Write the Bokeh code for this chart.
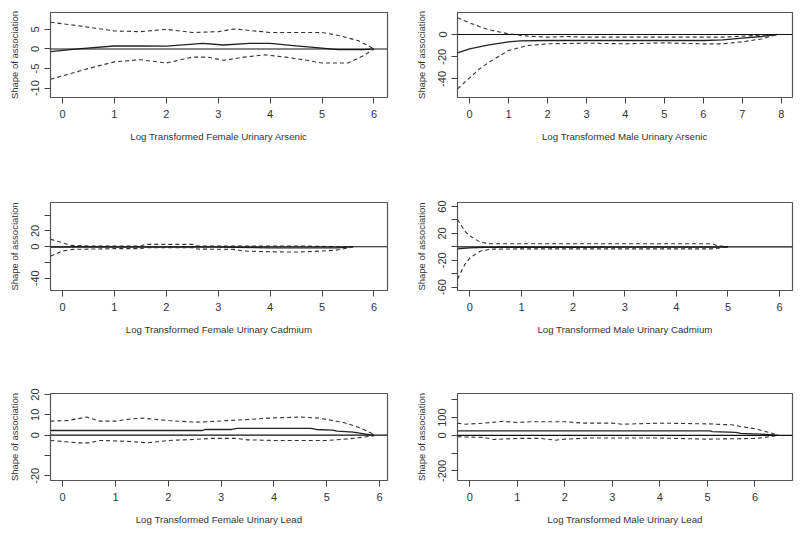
from bokeh.plotting import figure
from bokeh.models import Range1d, FixedTicker, Span
from bokeh.layouts import column, row
from bokeh.embed import file_html
from bokeh.resources import INLINE

# ---------------- data ----------------
# Female urinary arsenic
fa_fit_x = [-0.23, 0.3, 1.0, 1.5, 2.0, 2.7, 3.1, 3.6, 4.0, 4.5, 5.0, 5.3, 5.8, 6.0]
fa_fit = [-0.7, 0.0, 0.75, 0.8, 0.7, 1.4, 1.0, 1.4, 1.4, 0.8, 0.2, -0.2, -0.2, 0.0]
fa_upr_x = [-0.23, 0.2, 1.0, 1.5, 2.0, 2.5, 3.0, 3.3, 4.0, 5.0, 5.3, 5.7, 6.0]
fa_upr = [6.8, 6.1, 4.6, 4.4, 5.0, 4.2, 4.4, 5.1, 4.2, 4.2, 3.5, 2.1, 0.0]
fa_lwr_x = [-0.23, 0.5, 1.0, 1.5, 2.0, 2.5, 2.8, 3.1, 3.5, 3.9, 4.3, 4.7, 5.0, 5.5, 5.8, 6.0]
fa_lwr = [-7.75, -5.0, -3.3, -2.75, -3.6, -2.1, -2.1, -2.9, -2.1, -1.5, -2.1, -2.9, -3.6, -3.6, -1.7, 0.0]

# Male urinary arsenic
ma_fit_x = [-0.31, 0.0, 0.5, 1.0, 1.3, 2.0, 4.0, 6.0, 6.5, 7.0, 7.5, 7.9]
ma_fit = [-16.5, -12.9, -9.3, -6.6, -5.7, -5.4, -5.4, -5.4, -4.8, -3.3, -1.8, 0.0]
ma_upr_x = [-0.31, 0.0, 0.25, 0.5, 1.0, 1.5, 2.0, 2.5, 3.0, 5.0, 6.5, 7.0, 7.5, 7.9]
ma_upr = [15.0, 10.5, 7.2, 4.2, 0.6, -1.5, -2.4, -1.8, -2.4, -2.4, -2.4, -1.5, -0.6, 0.0]
ma_lwr_x = [-0.31, 0.0, 0.25, 0.5, 1.0, 1.5, 2.0, 3.0, 4.0, 5.0, 6.0, 6.5, 7.0, 7.5, 7.9]
ma_lwr = [-49.0, -39.0, -31.0, -25.0, -14.4, -9.9, -8.4, -7.8, -8.4, -7.5, -8.4, -8.4, -6.6, -3.9, 0.0]

# Female urinary cadmium
fc_fit_x = [-0.23, 0.5, 1.5, 2.5, 3.3, 4.0, 5.0, 5.3, 5.6]
fc_fit = [-0.5, -0.3, -0.5, -0.3, -0.8, -1.5, -1.5, -1.5, 0.0]
fc_upr_x = [-0.23, 0.0, 0.15, 0.5, 1.5, 1.6, 2.5, 2.6, 4.6, 5.3, 5.6]
fc_upr = [9.4, 5.0, 1.7, 0.9, 0.9, 3.0, 3.0, 0.9, 0.9, 0.0, 0.0]
fc_lwr_x = [-0.23, 0.0, 0.2, 1.0, 1.5, 1.6, 2.5, 2.6, 3.3, 3.5, 4.0, 4.5, 5.0, 5.3, 5.6]
fc_lwr = [-12.0, -5.5, -3.4, -2.5, -2.5, -1.3, -1.3, -3.0, -3.4, -5.5, -6.4, -6.8, -5.5, -4.2, 0.0]

# Male urinary cadmium
mc_fit_x = [-0.24, 0.0, 0.3, 1.0, 2.0, 3.0, 4.0, 4.7, 5.0]
mc_fit = [-3.0, -1.5, -0.8, -0.5, -0.8, -0.5, -0.5, -0.5, 0.0]
mc_upr_x = [-0.24, -0.1, 0.0, 0.2, 0.4, 1.0, 4.7, 4.8, 5.0]
mc_upr = [41.0, 23.5, 16.0, 7.0, 4.5, 4.5, 4.5, 1.5, 0.0]
mc_lwr_x = [-0.24, -0.1, 0.0, 0.2, 0.4, 1.0, 4.7, 5.0]
mc_lwr = [-48.0, -26.5, -16.5, -6.5, -3.5, -3.0, -3.0, 0.0]

# Female urinary lead
fl_fit_x = [-0.23, 2.65, 2.7, 3.2, 3.3, 4.7, 4.8, 5.1, 5.2, 5.5, 5.8, 5.9]
fl_fit = [2.3, 2.3, 2.8, 2.8, 3.3, 3.3, 2.8, 2.5, 2.0, 1.5, 0.3, 0.0]
fl_upr_x = [-0.23, 0.1, 0.45, 0.7, 1.0, 1.3, 1.5, 2.0, 2.5, 2.8, 3.5, 4.0, 4.5, 4.8, 5.0, 5.3, 5.6, 5.9]
fl_upr = [6.9, 7.2, 8.9, 6.9, 6.9, 8.0, 8.4, 7.2, 6.4, 6.7, 7.7, 8.5, 8.9, 8.5, 7.7, 6.4, 3.9, 0.3]
fl_lwr_x = [-0.23, 0.3, 0.5, 0.7, 1.3, 1.6, 2.0, 2.5, 2.8, 3.3, 3.5, 4.0, 5.0, 5.3, 5.6, 5.9]
fl_lwr = [-2.6, -3.8, -3.8, -2.6, -3.1, -3.8, -2.6, -2.1, -1.6, -1.6, -2.3, -2.6, -2.6, -2.1, -1.3, -0.3]

# Male urinary lead
ml_fit_x = [-0.26, 5.05, 5.1, 5.6, 5.7, 6.1, 6.3, 6.5]
ml_fit = [25.0, 25.0, 21.0, 17.0, 11.5, 7.7, 3.8, 0.0]
ml_upr_x = [-0.26, -0.1, 0.3, 0.7, 1.0, 1.3, 2.0, 2.4, 3.0, 3.2, 4.0, 5.0, 5.5, 6.0, 6.3, 6.5]
ml_upr = [69, 63, 69, 79, 73, 77, 77, 69, 69, 63, 69, 65, 60, 37, 17, 0]
ml_lwr_x = [-0.26, 0.3, 0.5, 1.0, 1.5, 1.8, 2.0, 2.5, 3.0, 4.0, 5.0, 6.0, 6.2, 6.5]
ml_lwr = [-8, -11.5, -23, -17, -17, -27, -21, -15, -15, -15, -21, -17, -11.5, 0]

# axis ticks and labels
fa_xticks = [0, 1, 2, 3, 4, 5, 6]
fa_yticks = [-10, -5, 0, 5]
fa_ylabels = ["-10", "-5", "0", "5"]
ma_xticks = [0, 1, 2, 3, 4, 5, 6, 7, 8]
ma_yticks = [-40, -20, 0, 20]
ma_ylabels = ["-40", "-20", "0", "20"]
fc_xticks = [0, 1, 2, 3, 4, 5, 6]
fc_yticks = [-40, -20, 0, 20, 40]
fc_ylabels = ["-40", "", "0", "20", ""]
mc_xticks = [0, 1, 2, 3, 4, 5, 6]
mc_yticks = [-60, -40, -20, 0, 20, 40, 60]
mc_ylabels = ["-60", "", "-20", "", "20", "", "60"]
fl_xticks = [0, 1, 2, 3, 4, 5, 6]
fl_yticks = [-20, -10, 0, 10, 20]
fl_ylabels = ["-20", "", "0", "10", "20"]
ml_xticks = [0, 1, 2, 3, 4, 5, 6]
ml_yticks = [-200, -100, 0, 100, 200]
ml_ylabels = ["-200", "", "0", "100", ""]

titles = [
    "Log Transformed Female Urinary Arsenic",
    "Log Transformed Male Urinary Arsenic",
    "Log Transformed Female Urinary Cadmium",
    "Log Transformed Male Urinary Cadmium",
    "Log Transformed Female Urinary Lead",
    "Log Transformed Male Urinary Lead",
]
ylab = "Shape of association"

FONT = "Liberation Sans"
TXT = "#333333"


def panel(w, h, bl, br, bt, bb, xr, yr, xticks, yticks, ylabels, title,
          fx, fy, ux, uy, lx, ly):
    p = figure(width=w, height=h, output_backend="svg", toolbar_location=None,
               x_range=Range1d(*xr), y_range=Range1d(*yr),
               min_border_left=bl, min_border_right=br,
               min_border_top=bt, min_border_bottom=bb)
    p.grid.visible = False
    p.background_fill_color = "white"
    p.border_fill_color = "white"
    p.outline_line_color = "#555555"
    p.outline_line_width = 1.2
    p.add_layout(Span(location=0, dimension="width", line_color="#111111", line_width=1.1))
    p.line(fx, fy, line_color="#222222", line_width=1.3)
    p.line(ux, uy, line_color="#333333", line_width=1.1, line_dash="4 3")
    p.line(lx, ly, line_color="#333333", line_width=1.1, line_dash="4 3")

    xa = p.xaxis[0]
    xa.ticker = FixedTicker(ticks=xticks)
    xa.axis_line_color = None
    xa.major_tick_out = 6
    xa.major_tick_in = 0
    xa.minor_tick_out = 0
    xa.minor_tick_in = 0
    xa.major_tick_line_color = "#444444"
    xa.major_label_standoff = 6
    xa.major_label_text_font = FONT
    xa.major_label_text_font_size = "11px"
    xa.major_label_text_color = TXT
    xa.axis_label = title
    xa.axis_label_text_font = FONT
    xa.axis_label_text_font_size = "9.7px"
    xa.axis_label_text_font_style = "normal"
    xa.axis_label_text_color = TXT
    xa.axis_label_standoff = 10

    ya = p.yaxis[0]
    ya.ticker = FixedTicker(ticks=yticks)
    ya.major_label_overrides = {t: s for t, s in zip(yticks, ylabels)}
    ya.axis_line_color = None
    ya.major_tick_out = 6
    ya.major_tick_in = 0
    ya.minor_tick_out = 0
    ya.minor_tick_in = 0
    ya.major_tick_line_color = "#444444"
    ya.major_label_orientation = "vertical"
    ya.major_label_standoff = 5
    ya.major_label_text_font = FONT
    ya.major_label_text_font_size = "11px"
    ya.major_label_text_color = TXT
    ya.axis_label = ylab
    ya.axis_label_text_font = FONT
    ya.axis_label_text_font_size = "9.5px"
    ya.axis_label_text_font_style = "normal"
    ya.axis_label_text_color = TXT
    ya.axis_label_standoff = 9
    return p


p1 = panel(400, 178, 50, 13, 11, 80, (-0.23, 6.26), (-12.4, 9.3), fa_xticks, fa_yticks, fa_ylabels,
           titles[0], fa_fit_x, fa_fit, fa_upr_x, fa_upr, fa_lwr_x, fa_lwr)
p2 = panel(400, 178, 57, 8, 12, 81, (-0.31, 8.29), (-56.7, 19.8), ma_xticks, ma_yticks, ma_ylabels,
           titles[1], ma_fit_x, ma_fit, ma_upr_x, ma_upr, ma_lwr_x, ma_lwr)
p3 = panel(400, 177, 50, 13, 24, 65, (-0.23, 6.26), (-55.4, 55.9), fc_xticks, fc_yticks, fc_ylabels,
           titles[2], fc_fit_x, fc_fit, fc_upr_x, fc_upr, fc_lwr_x, fc_lwr)
p4 = panel(400, 177, 57, 8, 24, 65, (-0.24, 6.25), (-65.0, 66.0), mc_xticks, mc_yticks, mc_ylabels,
           titles[3], mc_fit_x, mc_fit, mc_upr_x, mc_upr, mc_lwr_x, mc_lwr)
p5 = panel(400, 178, 50, 13, 38, 53, (-0.23, 6.15), (-22.3, 20.5), fl_xticks, fl_yticks, fl_ylabels,
           titles[4], fl_fit_x, fl_fit, fl_upr_x, fl_upr, fl_lwr_x, fl_lwr)
p6 = panel(400, 178, 57, 8, 38, 53, (-0.26, 6.79), (-254.0, 236.0), ml_xticks, ml_yticks, ml_ylabels,
           titles[5], ml_fit_x, ml_fit, ml_upr_x, ml_upr, ml_lwr_x, ml_lwr)

layout = column(row(p1, p2), row(p3, p4), row(p5, p6))

open("out.html", "w").write(file_html(layout, INLINE))
